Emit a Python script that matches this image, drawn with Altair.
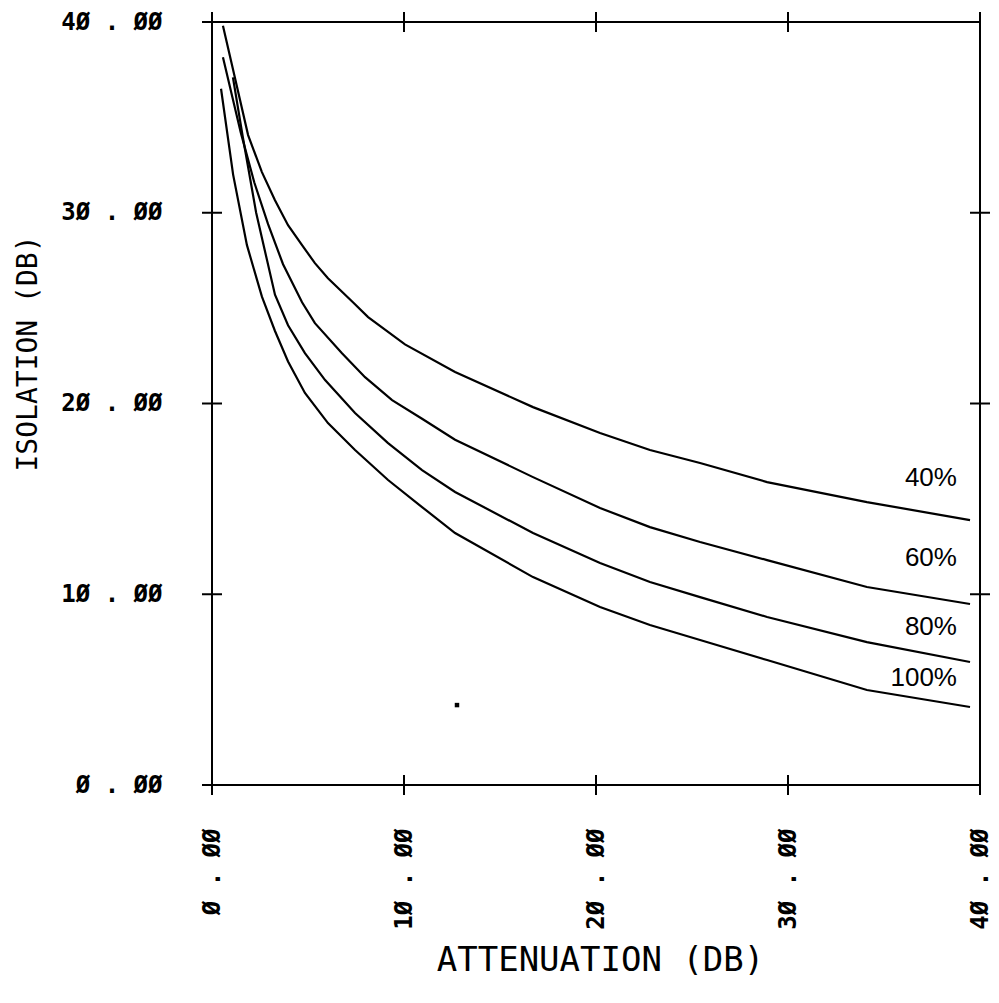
import altair as alt
import pandas as pd

# ---- data ----
att_40 = [0.57, 1.20, 1.88, 2.60, 3.28, 3.96, 4.69, 5.36, 6.04, 7.34, 8.13, 10.05, 12.66, 16.72, 20.21, 22.81, 25.42, 28.91, 34.11, 39.48]
iso_40 = [39.8, 37.05, 34.07, 32.13, 30.66, 29.35, 28.30, 27.36, 26.57, 25.31, 24.53, 23.1, 21.65, 19.81, 18.45, 17.56, 16.88, 15.88, 14.83, 13.89]

att_60 = [0.57, 1.5, 2.2, 2.92, 3.7, 4.69, 5.36, 6.77, 7.97, 9.38, 10.94, 12.66, 16.72, 20.21, 22.81, 25.42, 28.91, 34.11, 39.48]
iso_60 = [38.15, 34.2, 31.6, 29.4, 27.3, 25.31, 24.21, 22.64, 21.38, 20.18, 19.2, 18.1, 16.14, 14.52, 13.52, 12.74, 11.79, 10.38, 9.49]

att_80 = [1.09, 1.6, 2.3, 3.28, 3.96, 4.84, 5.89, 7.45, 9.17, 10.94, 12.66, 16.72, 20.21, 22.81, 25.42, 28.91, 34.11, 39.48]
iso_80 = [37.1, 34.0, 30.0, 25.7, 24.1, 22.64, 21.23, 19.50, 17.92, 16.51, 15.36, 13.21, 11.64, 10.64, 9.85, 8.81, 7.49, 6.45]

att_100 = [0.47, 1.1, 1.82, 2.60, 3.28, 3.96, 4.84, 6.04, 7.45, 9.17, 10.94, 12.66, 16.72, 20.21, 22.81, 25.42, 28.91, 34.11, 39.48]
iso_100 = [36.5, 32.0, 28.3, 25.6, 23.8, 22.2, 20.55, 18.97, 17.56, 15.99, 14.57, 13.21, 10.90, 9.33, 8.39, 7.60, 6.55, 4.98, 4.09]

series_names = ["40%", "60%", "80%", "100%"]
label_att = [38.8, 38.8, 38.8, 38.8]
label_iso = [16.1, 11.9, 8.3, 5.6]

tick_values = [0, 10, 20, 30, 40]
right_tick_values = [10, 20, 30]

stray_att = [12.76]
stray_iso = [4.19]

# ---- tables ----
rows = []
for name, xs, ys in zip(series_names, [att_40, att_60, att_80, att_100], [iso_40, iso_60, iso_80, iso_100]):
    for i, (x, y) in enumerate(zip(xs, ys)):
        rows.append({"series": name, "att": x, "iso": y, "order": i})
curves = pd.DataFrame(rows)

labels = pd.DataFrame({"series": series_names, "att": label_att, "iso": label_iso})

vticks = pd.DataFrame(
    [{"att": v, "iso": 0} for v in tick_values] + [{"att": v, "iso": 40} for v in tick_values]
)
hticks = pd.DataFrame(
    [{"att": 0, "iso": v} for v in tick_values] + [{"att": 40, "iso": v} for v in right_tick_values]
)
stray = pd.DataFrame({"att": stray_att, "iso": stray_iso})

MONO = "DejaVu Sans Mono"
label_expr = "replace(replace(format(datum.value, '.2f'), regexp('0', 'g'), 'Ø'), '.', ' . ')"

xscale = alt.Scale(domain=[0, 40], nice=False, zero=False)
yscale = alt.Scale(domain=[0, 40], nice=False, zero=False)

x_axis = alt.Axis(
    values=tick_values, labelExpr=label_expr, labelAngle=270, labelFont=MONO,
    labelFontSize=24, labelFontWeight="bold", labelPadding=43, labelFlush=False,
    labelOverlap=False, ticks=False, tickSize=0, domain=False, grid=False,
    title="ATTENUATION (DB)", titleFont=MONO, titleFontSize=34, titleFontWeight="normal",
    titleX=388, titleY=175, titleAlign="center", titleBaseline="middle", titleColor="black",
    labelColor="black",
)
y_axis = alt.Axis(
    values=tick_values, labelExpr=label_expr, labelFont=MONO,
    labelFontSize=24, labelFontWeight="bold", labelPadding=50, labelFlush=False,
    labelOverlap=False, ticks=False, tickSize=0, domain=False, grid=False,
    title="ISOLATION (DB)", titleFont=MONO, titleFontSize=28, titleFontWeight="normal",
    titleAngle=270, titleX=-184, titleY=331, titleAlign="center", titleBaseline="middle",
    titleColor="black", labelColor="black",
)

base_x = alt.X("att:Q", scale=xscale, axis=x_axis)
base_y = alt.Y("iso:Q", scale=yscale, axis=y_axis)

lines = alt.Chart(curves).mark_line(color="black", strokeWidth=2.2).encode(
    x=base_x, y=base_y, detail="series:N", order="order:Q"
)

text = alt.Chart(labels).mark_text(
    align="right", baseline="middle", font="Liberation Sans", fontSize=26, color="black"
).encode(x=alt.X("att:Q", scale=xscale), y=alt.Y("iso:Q", scale=yscale), text="series:N")

vt = alt.Chart(vticks).mark_point(
    shape="M0,-1L0,1", size=400, filled=False, stroke="black", strokeWidth=2, opacity=1
).encode(x=alt.X("att:Q", scale=xscale), y=alt.Y("iso:Q", scale=yscale))

ht = alt.Chart(hticks).mark_point(
    shape="M-1,0L1,0", size=400, filled=False, stroke="black", strokeWidth=2, opacity=1
).encode(x=alt.X("att:Q", scale=xscale), y=alt.Y("iso:Q", scale=yscale))

dot = alt.Chart(stray).mark_square(size=20, color="black", opacity=1).encode(
    x=alt.X("att:Q", scale=xscale), y=alt.Y("iso:Q", scale=yscale)
)

chart = alt.layer(lines, text, vt, ht, dot).properties(
    width=768, height=763,
    autosize=alt.AutoSizeParams(type="none"),
    padding={"left": 212, "top": 22, "right": 19, "bottom": 218},
    background="white",
).configure_view(stroke="black", strokeWidth=2)

chart.save("out.html", embed_options={"renderer": "svg", "actions": False})
